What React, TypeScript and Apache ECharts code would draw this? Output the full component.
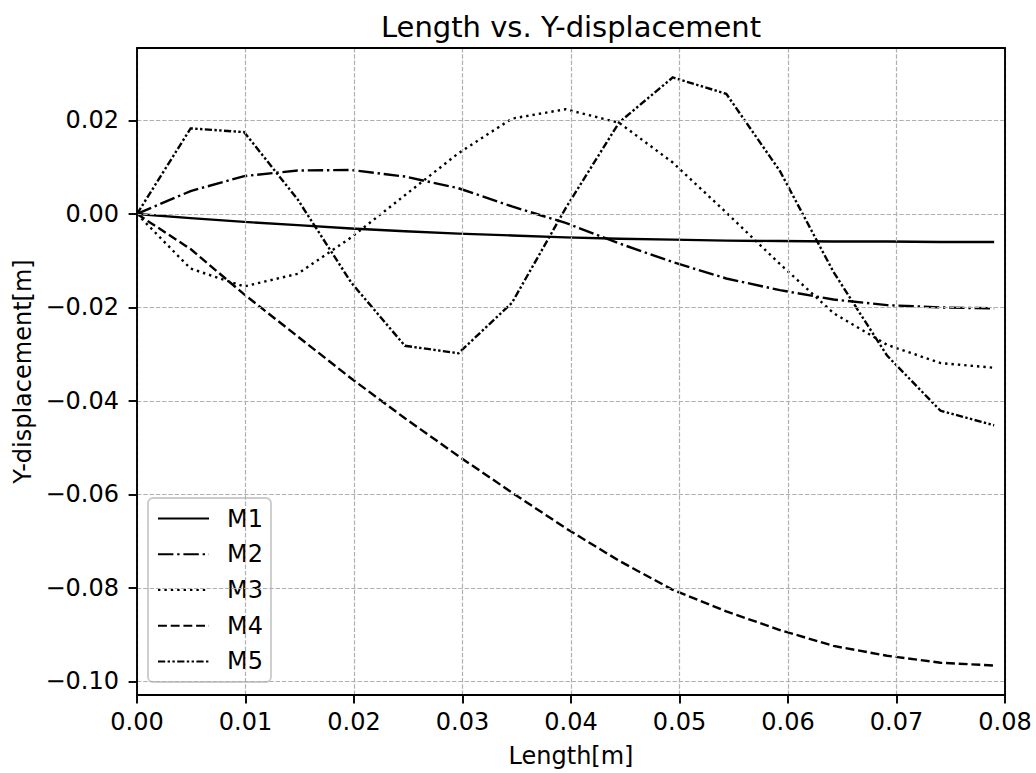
import React, { useEffect, useRef } from "react";
import * as echarts from "echarts";

// Sample positions along the length [m]
const X = [0, 0.00494, 0.00988, 0.01481, 0.01975, 0.02469, 0.02963, 0.03456, 0.0395, 0.04444, 0.04938, 0.05431, 0.05925, 0.06419, 0.06913, 0.07406, 0.079];

// Y-displacement [m] for each mode
const M1 = [0, -0.0009, -0.0017, -0.0024, -0.0031, -0.0037, -0.0042, -0.0046, -0.005, -0.0053, -0.0055, -0.0057, -0.0058, -0.0059, -0.0059, -0.006, -0.006];
const M2 = [0, 0.0049, 0.0081, 0.0093, 0.0094, 0.008, 0.0055, 0.0016, -0.0019, -0.0063, -0.0103, -0.0138, -0.0163, -0.0183, -0.0195, -0.02, -0.0202];
const M3 = [0, -0.0117, -0.0155, -0.0128, -0.005, 0.004, 0.013, 0.0204, 0.0224, 0.0195, 0.011, 0.0003, -0.0107, -0.0212, -0.028, -0.0319, -0.0329];
const M4 = [0, -0.0075, -0.0172, -0.0262, -0.0352, -0.0437, -0.0518, -0.0596, -0.0672, -0.0742, -0.0804, -0.085, -0.089, -0.0924, -0.0945, -0.096, -0.0966];
const M5 = [0, 0.0183, 0.0175, 0.0031, -0.0147, -0.0282, -0.0298, -0.019, 0.0012, 0.0196, 0.0292, 0.0257, 0.0092, -0.0124, -0.0303, -0.0421, -0.0452];

const SERIES_NAMES = ["M1", "M2", "M3", "M4", "M5"];
const SERIES_VALUES = [M1, M2, M3, M4, M5];

// Axis limits and ticks
const X_MIN = 0;
const X_MAX = 0.08;
const X_STEP = 0.01;
const Y_MIN = -0.1029;
const Y_MAX = 0.0355;
const Y_TICKS = [-0.1, -0.08, -0.06, -0.04, -0.02, 0.0, 0.02];

const TITLE = "Length vs. Y-displacement";
const X_NAME = "Length[m]";
const Y_NAME = "Y-displacement[m]";

const FONT = "'DejaVu Sans', sans-serif";
const DASHES: (number[] | "solid")[] = [
  "solid",
  [15.4, 3.8, 2.4, 3.8],
  [2.4, 4],
  [8.9, 3.8],
  [7.2, 2.4, 2.4, 2.4, 2.4, 2.4],
];

const fmtY = (v: number) => {
  const s = (Math.abs(v) < 1e-9 ? 0 : v).toFixed(2);
  return s.replace("-", "\u2212");
};

export default function App() {
  const ref = useRef<HTMLDivElement>(null);
  useEffect(() => {
    if (!ref.current) return;
    const chart = echarts.init(ref.current, undefined, { renderer: "svg" });
    const gridLine = { show: true, lineStyle: { color: "#b0b0b0", width: 1.2, type: [4.4, 1.9] } };
    const spine = { show: true, onZero: false, lineStyle: { color: "#000", width: 1.9 } };
    const tick = { show: true, inside: false, length: 8.4, lineStyle: { color: "#000", width: 1.9 } };
    const bare = {
      axisLine: spine,
      axisTick: { show: false },
      axisLabel: { show: false },
      splitLine: { show: false },
    };
    chart.setOption({
      animation: false,
      backgroundColor: "#ffffff",
      title: {
        text: TITLE,
        left: 571,
        top: 12,
        textAlign: "center",
        padding: 0,
        textStyle: { fontFamily: FONT, fontSize: 29, fontWeight: "normal", color: "#000" },
      },
      grid: {
        left: 137,
        top: 48,
        width: 868,
        height: 647,
        show: false,
      },
      legend: {
        orient: "vertical",
        left: 148,
        top: 498,
        padding: [8.6, 8, 8.6, 9],
        itemGap: 11.7,
        itemWidth: 51,
        itemHeight: 14,
        backgroundColor: "rgba(255,255,255,0.8)",
        borderColor: "#cccccc",
        borderWidth: 1.9,
        borderRadius: 5,
        data: SERIES_NAMES,
        textStyle: { fontFamily: FONT, fontSize: 24, color: "#000", lineHeight: 24, padding: [0, 0, 0, 13] },
      },
      xAxis: [
        {
          type: "value",
          position: "bottom",
          min: X_MIN,
          max: X_MAX,
          interval: X_STEP,
          name: X_NAME,
          nameLocation: "middle",
          nameGap: 49,
          nameTextStyle: { fontFamily: FONT, fontSize: 24, color: "#000" },
          axisLine: spine,
          axisTick: tick,
          axisLabel: {
            fontFamily: FONT,
            fontSize: 24,
            color: "#000",
            margin: 15,
            formatter: (v: number) => v.toFixed(2),
          },
          splitLine: gridLine,
          z: 5,
        },
        { type: "value", position: "top", min: X_MIN, max: X_MAX, interval: X_STEP, ...bare, z: 5 },
      ],
      yAxis: [
        {
          type: "value",
          position: "left",
          min: Y_MIN,
          max: Y_MAX,
          splitNumber: 7,
          name: Y_NAME,
          nameLocation: "middle",
          nameGap: 102,
          nameTextStyle: { fontFamily: FONT, fontSize: 24, color: "#000" },
          axisLine: spine,
          axisTick: { ...tick, customValues: Y_TICKS },
          axisLabel: {
            fontFamily: FONT,
            fontSize: 24,
            color: "#000",
            margin: 18,
            customValues: Y_TICKS,
            formatter: fmtY,
          },
          splitLine: gridLine,
          z: 5,
        },
        { type: "value", position: "right", min: Y_MIN, max: Y_MAX, splitNumber: 7, ...bare, z: 5 },
      ],
      series: SERIES_NAMES.map((name, i) => ({
        name,
        type: "line",
        xAxisIndex: 0,
        yAxisIndex: 0,
        data: X.map((x, j) => [x, SERIES_VALUES[i][j]]),
        showSymbol: false,
        symbol: "none",
        smooth: false,
        clip: true,
        itemStyle: { color: "rgba(0,0,0,0)" },
        lineStyle: { color: "#000", width: 2.4, type: DASHES[i], cap: "butt", join: "miter" },
        emphasis: { disabled: true },
      })),
    });
    return () => chart.dispose();
  }, []);
  return (
    <div
      ref={ref}
      style={{ position: "absolute", left: 0, top: 0, width: 1036, height: 773 }}
    />
  );
}
